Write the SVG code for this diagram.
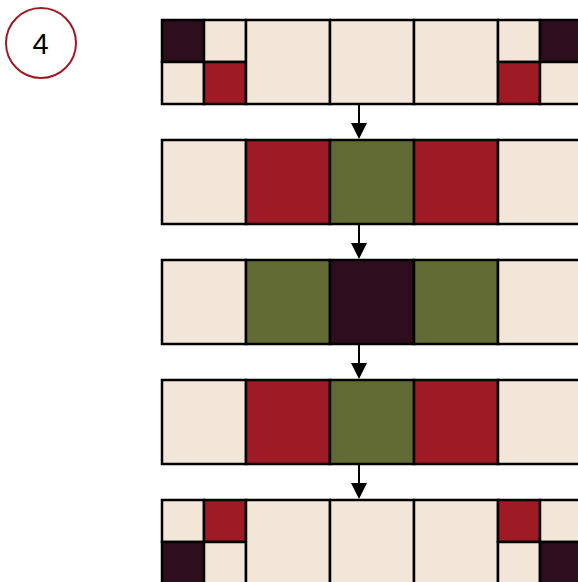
<svg xmlns="http://www.w3.org/2000/svg" width="578" height="582" viewBox="0 0 578 582">
<style>
.s{stroke:#000;stroke-width:2.5}
.c{fill:#f2e6d9}
.r{fill:#9e1b25}
.o{fill:#636b35}
.d{fill:#2e0d1c}
.ar{stroke:#000;stroke-width:2}
</style>
<rect width="578" height="582" fill="#fff"/>
<g id="label4">
<circle cx="41" cy="43" r="35" fill="#fff" stroke="#9e1b25" stroke-width="2"/>
<text x="40.500" y="54" font-family="Liberation Sans, Arial, sans-serif" font-size="29" text-anchor="middle" fill="#000">4</text>
</g>
<g id="row1">
<rect class="s d" x="162" y="20" width="42" height="42"/>
<rect class="s c" x="204" y="20" width="42" height="42"/>
<rect class="s c" x="162" y="62" width="42" height="42"/>
<rect class="s r" x="204" y="62" width="42" height="42"/>
<rect class="s c" x="246" y="20" width="84" height="84"/>
<rect class="s c" x="330" y="20" width="84" height="84"/>
<rect class="s c" x="414" y="20" width="84" height="84"/>
<rect class="s c" x="498" y="20" width="42" height="42"/>
<rect class="s d" x="540" y="20" width="42" height="42"/>
<rect class="s r" x="498" y="62" width="42" height="42"/>
<rect class="s c" x="540" y="62" width="42" height="42"/>
</g>
<g id="row2">
<rect class="s c" x="162" y="140" width="84" height="84"/>
<rect class="s r" x="246" y="140" width="84" height="84"/>
<rect class="s o" x="330" y="140" width="84" height="84"/>
<rect class="s r" x="414" y="140" width="84" height="84"/>
<rect class="s c" x="498" y="140" width="84" height="84"/>
</g>
<g id="row3">
<rect class="s c" x="162" y="260" width="84" height="84"/>
<rect class="s o" x="246" y="260" width="84" height="84"/>
<rect class="s d" x="330" y="260" width="84" height="84"/>
<rect class="s o" x="414" y="260" width="84" height="84"/>
<rect class="s c" x="498" y="260" width="84" height="84"/>
</g>
<g id="row4">
<rect class="s c" x="162" y="380" width="84" height="84"/>
<rect class="s r" x="246" y="380" width="84" height="84"/>
<rect class="s o" x="330" y="380" width="84" height="84"/>
<rect class="s r" x="414" y="380" width="84" height="84"/>
<rect class="s c" x="498" y="380" width="84" height="84"/>
</g>
<g id="row5">
<rect class="s c" x="162" y="500" width="42" height="42"/>
<rect class="s r" x="204" y="500" width="42" height="42"/>
<rect class="s d" x="162" y="542" width="42" height="42"/>
<rect class="s c" x="204" y="542" width="42" height="42"/>
<rect class="s c" x="246" y="500" width="84" height="84"/>
<rect class="s c" x="330" y="500" width="84" height="84"/>
<rect class="s c" x="414" y="500" width="84" height="84"/>
<rect class="s r" x="498" y="500" width="42" height="42"/>
<rect class="s c" x="540" y="500" width="42" height="42"/>
<rect class="s c" x="498" y="542" width="42" height="42"/>
<rect class="s d" x="540" y="542" width="42" height="42"/>
</g>
<g id="connectors">
<line class="ar" x1="359" y1="105" x2="359" y2="125"/>
<polygon points="351,123 367,123 359,139"/>
<line class="ar" x1="359" y1="225" x2="359" y2="245"/>
<polygon points="351,243 367,243 359,259"/>
<line class="ar" x1="359" y1="345" x2="359" y2="365"/>
<polygon points="351,363 367,363 359,379"/>
<line class="ar" x1="359" y1="465" x2="359" y2="485"/>
<polygon points="351,483 367,483 359,499"/>
</g>
</svg>
